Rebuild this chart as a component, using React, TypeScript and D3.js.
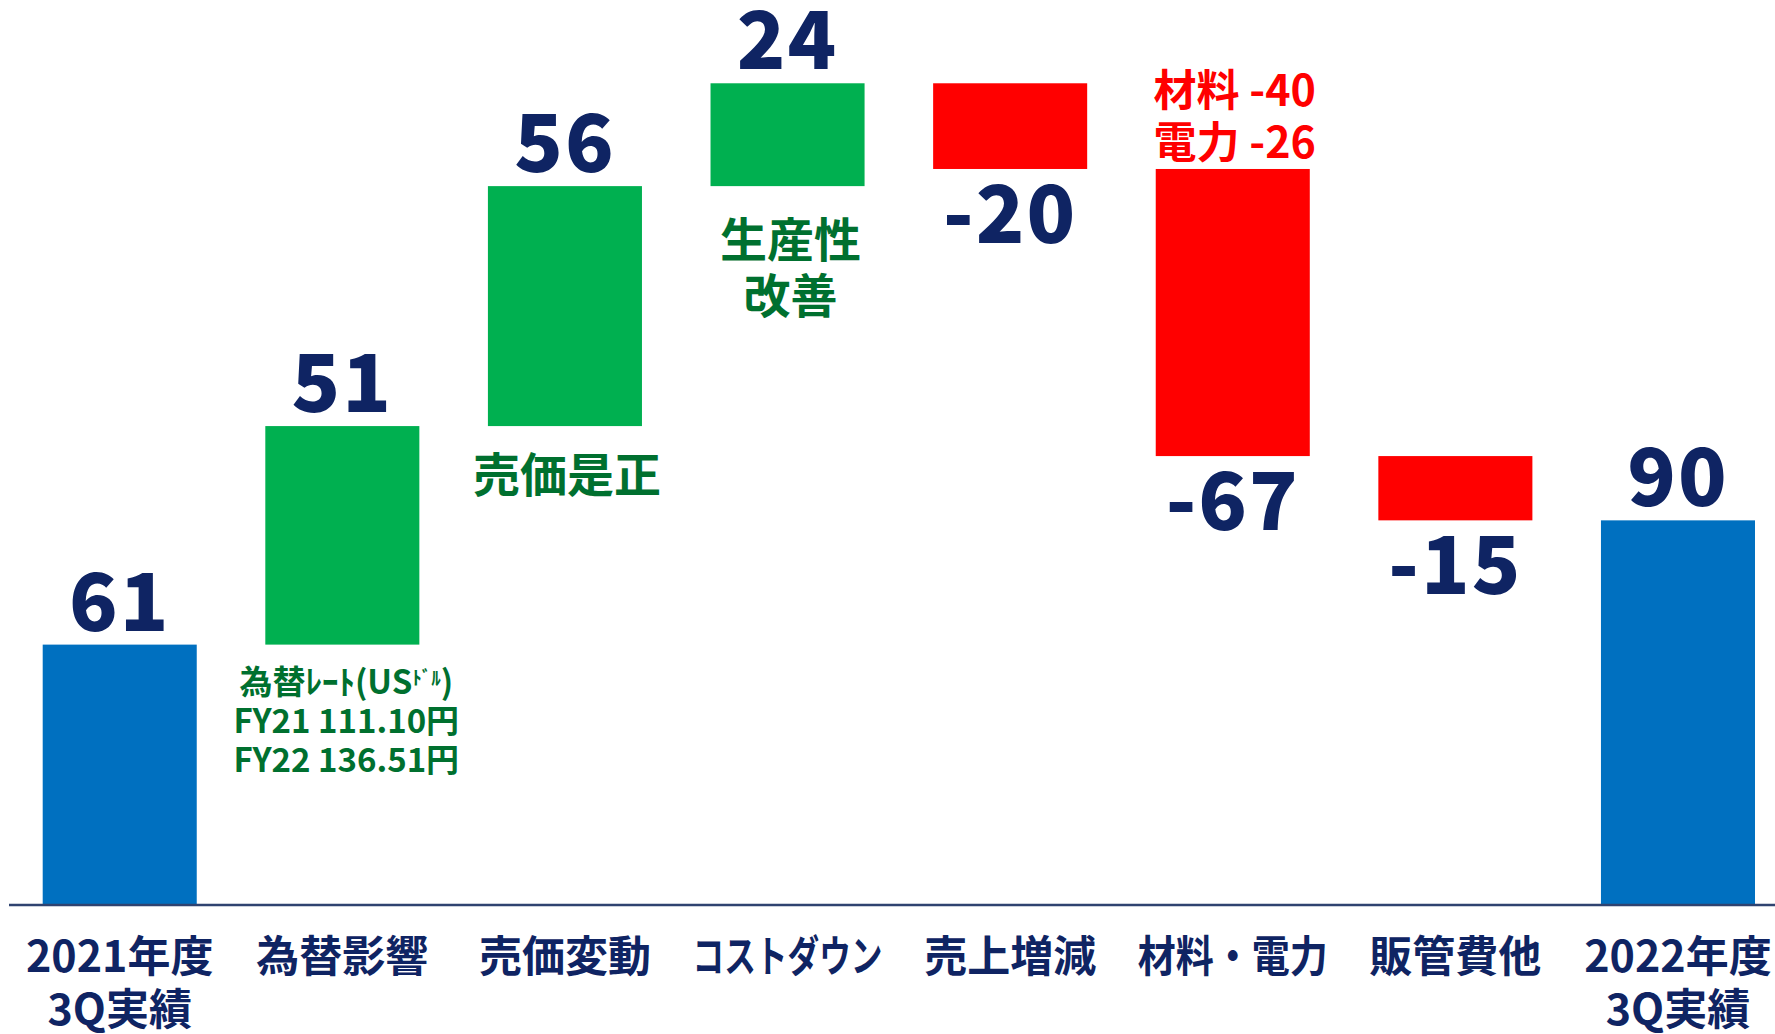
import React from "react";
import * as d3 from "d3";

const categories = [
  "2021年度\n3Q実績",
  "為替影響",
  "売価変動",
  "コストダウン",
  "売上増減",
  "材料・電力",
  "販管費他",
  "2022年度\n3Q実績",
];
const values = [61, 51, 56, 24, -20, -67, -15, 90];
const kinds = ["total", "delta", "delta", "delta", "delta", "delta", "delta", "total"];

const fxNoteLines = ["為替ﾚｰﾄ(US", "FY21 111.10円", "FY22 136.51円"];
const fxNoteSmall = "ﾄﾞﾙ";
const priceNote = ["売価是正"];
const productivityNote = ["生産性", "改善"];
const materialNote = ["材料 -40", "電力 -26"];

const W = 1775;
const H = 1034;
const NAVY = "#0F2463";
const BLUE = "#0070C0";
const GREEN = "#00B050";
const RED = "#FF0000";
const DARKGREEN = "#00702F";
const FONT = "'Noto Sans CJK JP', 'Noto Sans', sans-serif";

export default function App() {
  const x = d3
    .scaleBand<string>()
    .domain(categories)
    .range([42.7, 1755])
    .paddingInner(0.308)
    .paddingOuter(0);
  const y = d3.scaleLinear().domain([0, 200]).range([906, 49]);

  let running = 0;
  const bars = categories.map((c, i) => {
    const v = values[i];
    let y0: number, y1: number;
    if (kinds[i] === "total") {
      y0 = 0;
      y1 = v;
      running = v;
    } else {
      y0 = running;
      y1 = running + v;
      running = y1;
    }
    const top = y(Math.max(y0, y1));
    const bottom = y(Math.min(y0, y1));
    const color = kinds[i] === "total" ? BLUE : v >= 0 ? GREEN : RED;
    return { c, i, v, top, bottom, color, x: x(c)!, cx: x(c)! + x.bandwidth() / 2 };
  });

  const b = (i: number) => bars[i];
  // condensed width for the wider category labels (reference font is narrow)
  const condensed = (line: string) => (line.length >= 5 && !/\d/.test(line) ? 190 : undefined);

  return (
    <svg
      width={W}
      height={H}
      style={{ position: "absolute", left: 0, top: 0, display: "block", background: "#fff" }}
      fontFamily={FONT}
    >
      {bars.map((d) => (
        <rect key={d.c} x={d.x} y={d.top} width={x.bandwidth()} height={d.bottom - d.top} fill={d.color} />
      ))}
      <line x1={9} x2={W} y1={905} y2={905} stroke="#2F4370" strokeWidth={2.5} />

      {bars.map((d) => (
        <text
          key={"v" + d.c}
          x={d.cx}
          y={d.v >= 0 ? d.top - 14 : d.bottom + 74}
          textAnchor="middle"
          fontSize={80}
          fontWeight={900}
          letterSpacing={2}
          fill={NAVY}
        >
          {d.v >= 0 ? String(d.v) : "-" + Math.abs(d.v)}
        </text>
      ))}

      {bars.map((d) =>
        d.c.split("\n").map((line, j) => (
          <text
            key={"c" + d.c + j}
            x={d.cx}
            y={972 + j * 53}
            textAnchor="middle"
            fontSize={43}
            fontWeight={700}
            fill={NAVY}
            textLength={condensed(line)}
            lengthAdjust={condensed(line) ? "spacingAndGlyphs" : undefined}
          >
            {line}
          </text>
        ))
      )}

      {/* FX note under bar 2 */}
      {fxNoteLines.map((line, j) => (
        <text
          key={"fx" + j}
          x={b(1).cx + 4}
          y={b(1).bottom + 49 + j * 39}
          textAnchor="middle"
          fontSize={33}
          fontWeight={700}
          fill={DARKGREEN}
        >
          {line}
          {j === 0 ? (
            <>
              <tspan fontSize={19} dy={-9}>{fxNoteSmall}</tspan>
              <tspan dy={9}>)</tspan>
            </>
          ) : null}
        </text>
      ))}

      {priceNote.map((line, j) => (
        <text
          key={"pn" + j}
          x={b(2).cx + 2}
          y={b(2).bottom + 66 + j * 56}
          textAnchor="middle"
          fontSize={47}
          fontWeight={700}
          fill={DARKGREEN}
        >
          {line}
        </text>
      ))}

      {productivityNote.map((line, j) => (
        <text
          key={"pr" + j}
          x={b(3).cx + 3}
          y={b(3).bottom + 71 + j * 56}
          textAnchor="middle"
          fontSize={47}
          fontWeight={700}
          fill={DARKGREEN}
        >
          {line}
        </text>
      ))}

      {materialNote.map((line, j) => (
        <text
          key={"mn" + j}
          x={b(5).cx + 2}
          y={b(5).top - 63 + j * 52}
          textAnchor="middle"
          fontSize={43}
          fontWeight={700}
          fill={RED}
        >
          {line}
        </text>
      ))}
    </svg>
  );
}
